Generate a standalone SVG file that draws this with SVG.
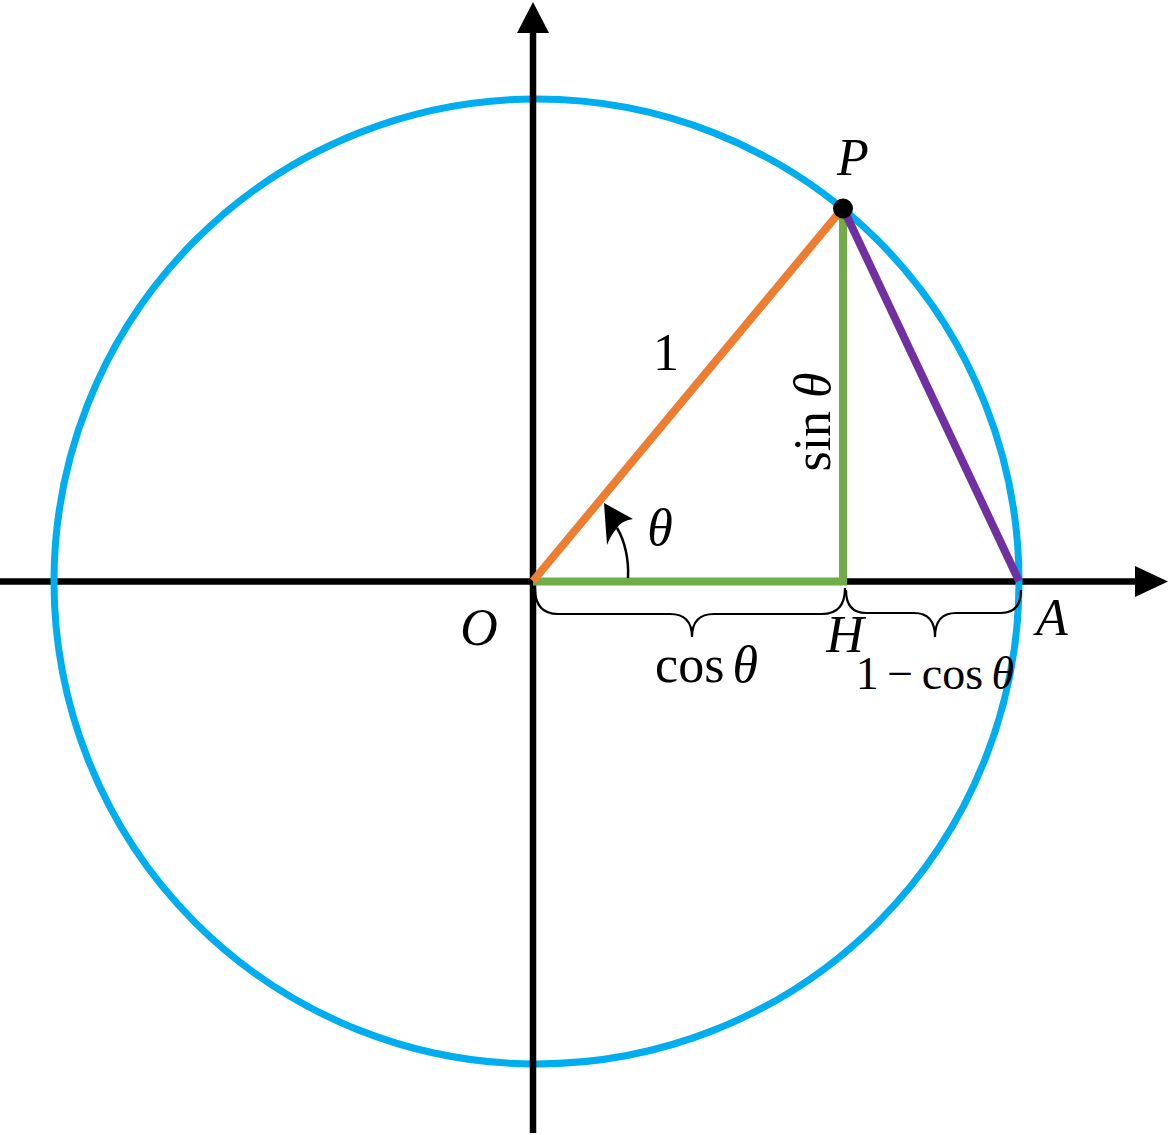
<svg xmlns="http://www.w3.org/2000/svg" width="1173" height="1135" viewBox="0 0 1173 1135">
<style>
.lbl{font-family:"Liberation Serif","DejaVu Serif",serif;font-size:52px;fill:#000;text-anchor:middle}
.it{font-style:italic}
.brace{fill:none;stroke:#000;stroke-width:2.2}
</style>
<rect width="1173" height="1135" fill="#fff"/>
<g id="connectors">
<line id="x-axis" x1="0" y1="581.5" x2="1140" y2="581.5" stroke="#000" stroke-width="6.5"/>
<polygon points="1168,581.5 1135,566 1135,597" fill="#000"/>
<circle id="unit-circle" cx="536.5" cy="581.5" r="482.5" fill="none" stroke="#00AEEF" stroke-width="7"/>
<line id="y-axis" x1="533" y1="1133" x2="533" y2="30" stroke="#000" stroke-width="6.5"/>
<polygon points="533,2 517,33 549,33" fill="#000"/>
<path id="green" d="M533,581.5 L843,581.5 L843,208" fill="none" stroke="#70AD47" stroke-width="8" stroke-linejoin="miter"/>
<line id="orange" x1="533" y1="581" x2="843" y2="208" stroke="#ED7D31" stroke-width="8"/>
<line id="purple" x1="843" y1="208" x2="1019" y2="581" stroke="#7030A0" stroke-width="8"/>
<path id="angle-arc" d="M628,578 C629,560 625,541 617,528" fill="none" stroke="#000" stroke-width="2.5"/>
<path d="M604,503 L633,519 Q621,521 617,528 Q611,535 607,545 Z" fill="#000"/>
<path class="brace" d="M535,588 Q535,614 558,614 L670,614 Q692,614 692,637 Q692,614 714,614 L822,614 Q845,614 845,588"/>
<path class="brace" d="M846,590 Q846,613 866,613 L914,613 Q935,613 935,637 Q935,613 956,613 L1001,613 Q1021,613 1021,590"/>
</g>
<g id="P"><circle cx="843" cy="208.5" r="10" fill="#000"/><text class="lbl it" x="853" y="175">P</text></g>
<g id="O"><text class="lbl it" x="479" y="645">O</text></g>
<g id="H"><text class="lbl it" x="845" y="652">H</text></g>
<g id="A"><text class="lbl it" x="1052" y="635">A</text></g>
<g id="label-1"><text class="lbl" x="666" y="370">1</text></g>
<g id="label-theta"><text class="lbl it" x="660" y="545">θ</text></g>
<g id="label-cos"><text class="lbl" x="706.5" y="682" style="word-spacing:-5px">cos <tspan class="it">θ</tspan></text></g>
<g id="label-1-cos"><text class="lbl" x="935" y="689" style="font-size:46px;word-spacing:-3px">1 − cos <tspan class="it">θ</tspan></text></g>
<g id="label-sin"><text class="lbl" transform="translate(830,422) rotate(-90)" x="0" y="0">sin <tspan class="it">θ</tspan></text></g>
</svg>
